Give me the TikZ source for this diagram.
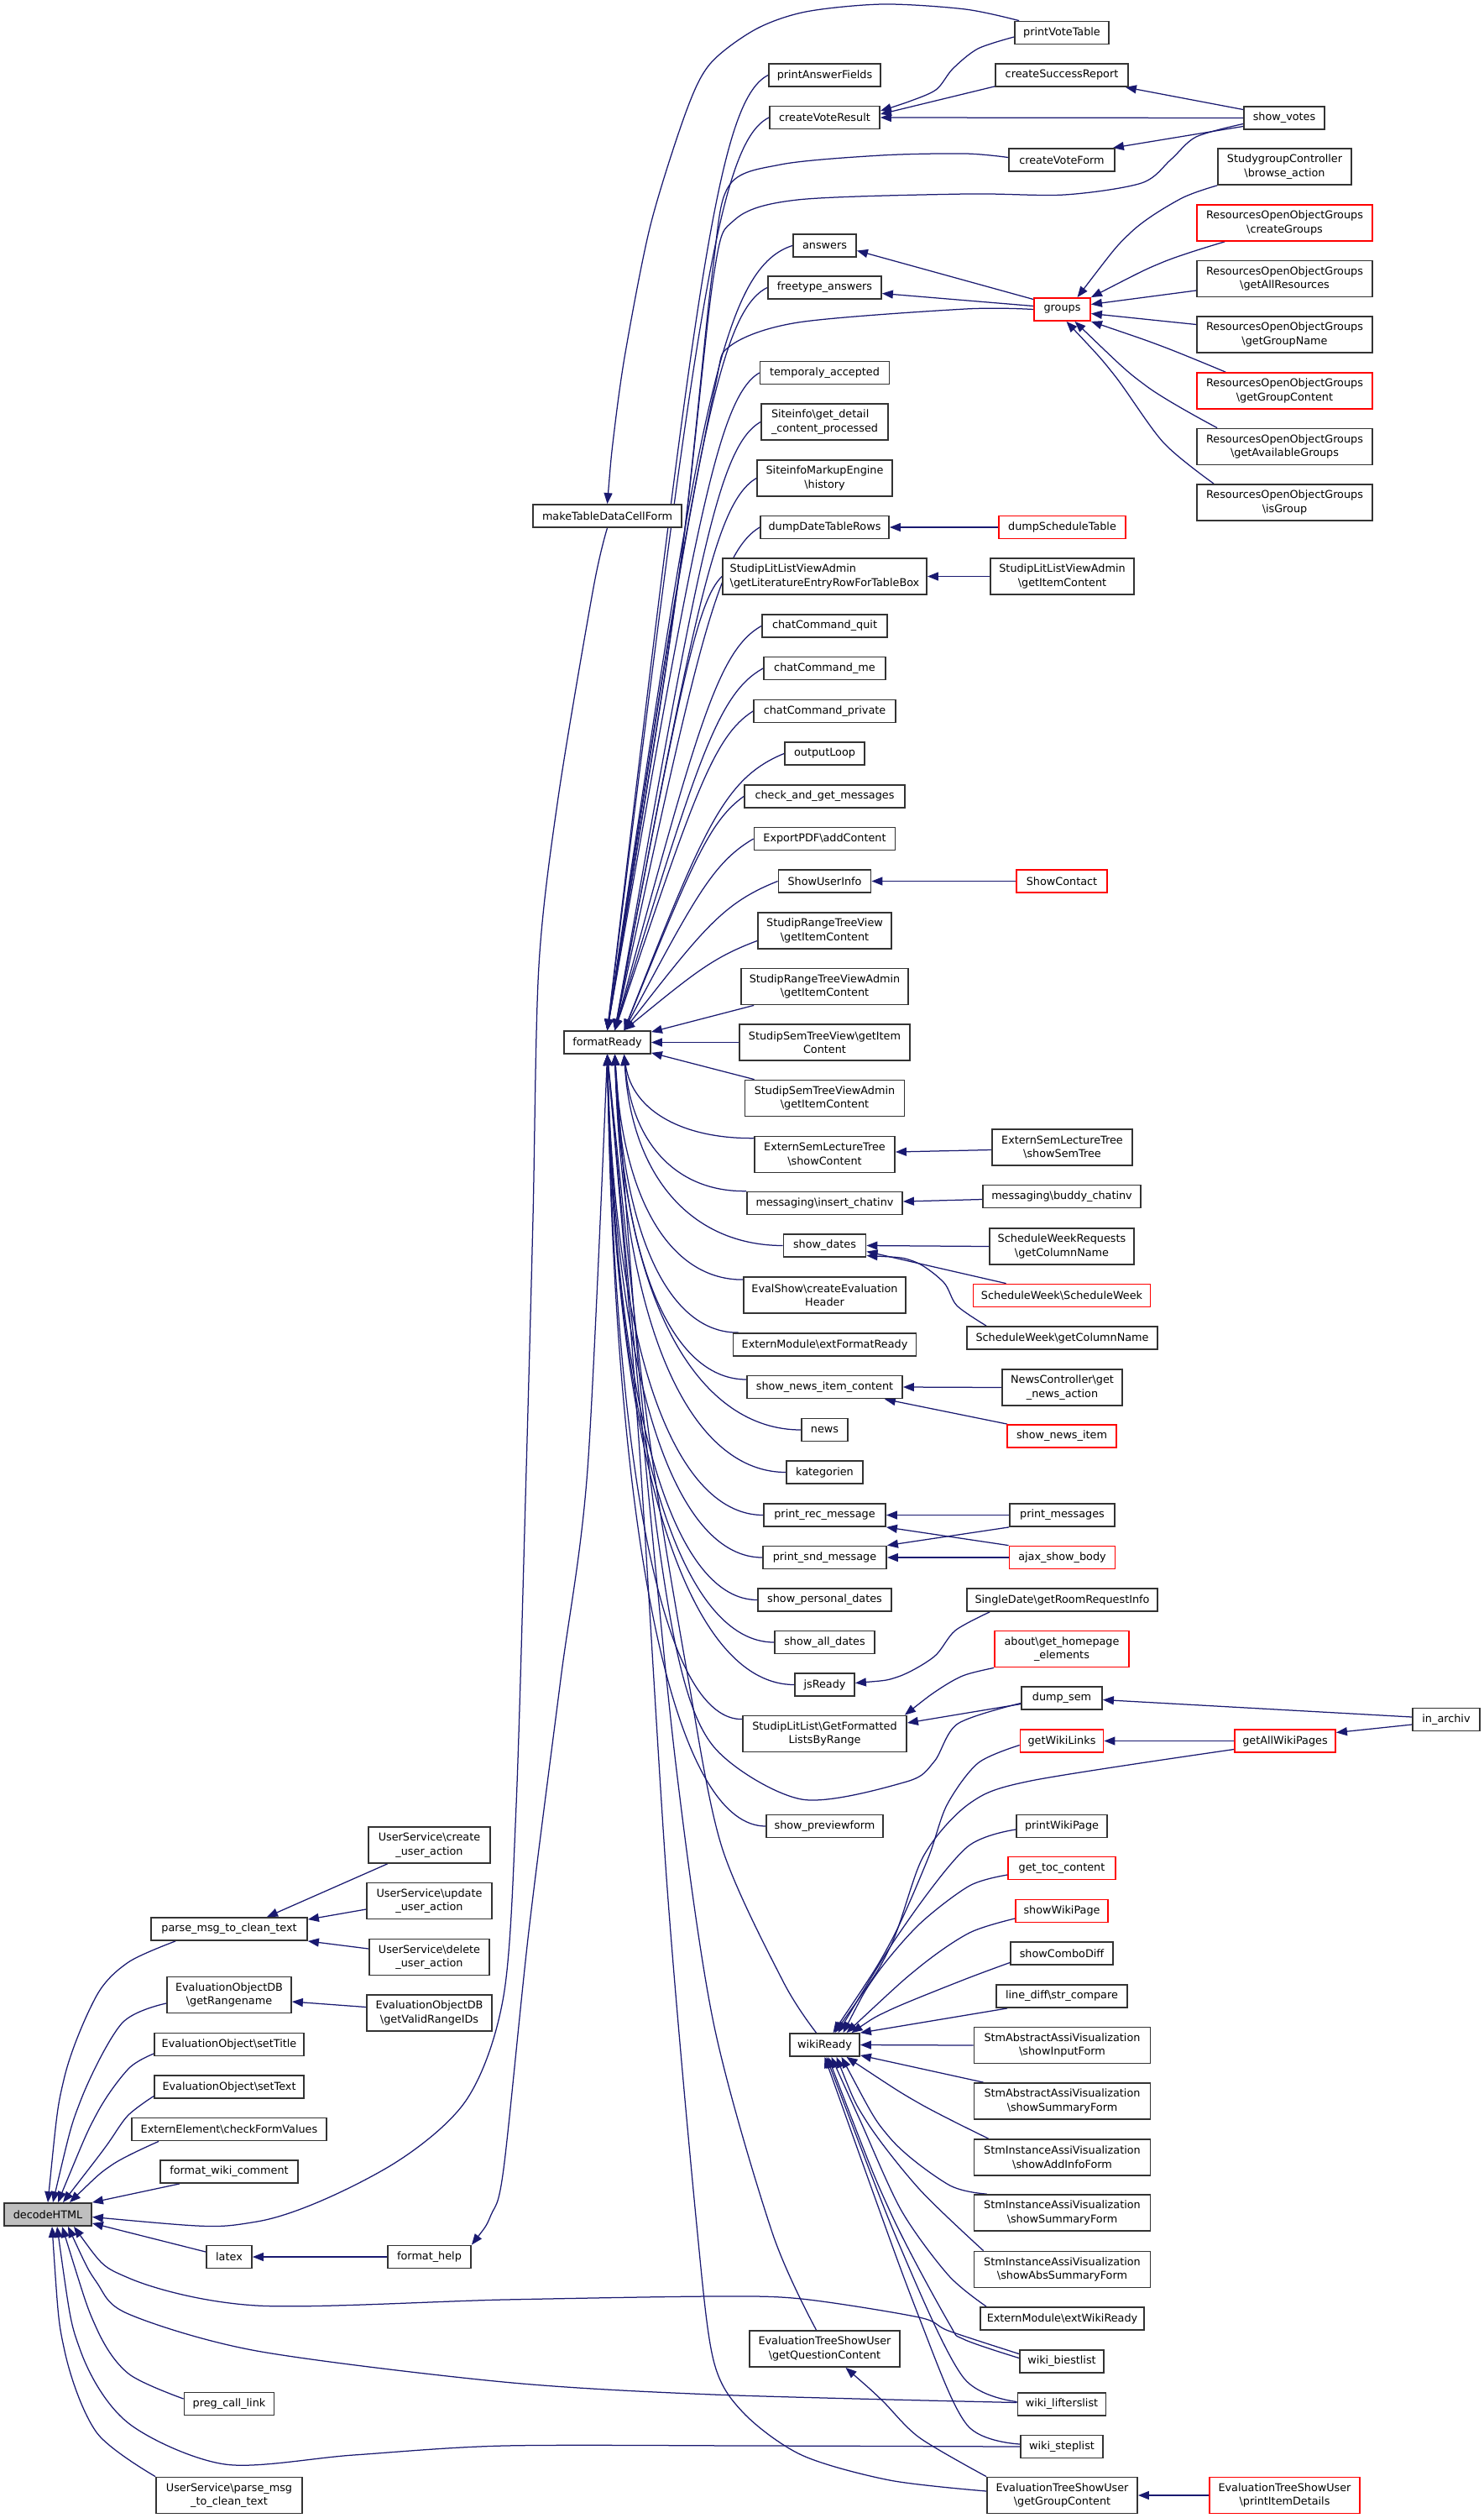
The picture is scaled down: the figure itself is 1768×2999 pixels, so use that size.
\documentclass[tikz,border=0pt]{standalone}
\usepackage{fontspec}
\setmainfont{DejaVu Sans}
\usetikzlibrary{arrows.meta,calc}
\definecolor{navy}{HTML}{191970}
\definecolor{bord}{HTML}{333333}
\newcommand\bsl{\textbackslash}
\newcommand\fs{\fontsize{12.8}{16.5}\selectfont}
\pgfdeclarelayer{bg}
\pgfsetlayers{bg,main}
\newcommand\topfan[4]{\draw[edg] (#1) .. controls ($(#1)!0.8!(#3,#4)$) and (#3,#4) .. (#2);}
\begin{document}
\begin{tikzpicture}[x=1pt,y=-1pt,
  box/.style={draw=bord, line width=1.8pt, fill=white, inner xsep=3pt, inner ysep=1pt, minimum height=27pt, align=center, font=\fs},
  dbl/.style={minimum height=43pt},
  rbox/.style={draw=red},
  edg/.style={draw=navy, line width=1.25pt, {Triangle[length=13pt,width=10pt]}-}]
\useasboundingbox (0,0) rectangle (1768,2999);
% column A
\node[box,fill=black!25,minimum width=104pt] (dec) at (57,2637.5) {decodeHTML};
% column B
\node[box,minimum width=186pt] (pmc) at (273,2297.5) {parse\_msg\_to\_clean\_text};
\node[box,dbl,minimum width=148pt] (eodbGR) at (273,2376) {EvaluationObjectDB\\\bsl getRangename};
\node[box,minimum width=178pt] (eoST) at (273,2435) {EvaluationObject\bsl setTitle};
\node[box,minimum width=178pt] (eoSX) at (273,2485.5) {EvaluationObject\bsl setText};
\node[box,minimum width=232pt] (eeCF) at (273,2536) {ExternElement\bsl checkFormValues};
\node[box,minimum width=164pt] (fwc) at (273,2586.5) {format\_wiki\_comment};
\node[box,minimum width=54pt] (latex) at (273,2688) {latex};
\node[box,minimum width=107pt] (pcl) at (273,2863) {preg\_call\_link};
\node[box,dbl,minimum width=174pt] (usPM) at (273,2972) {UserService\bsl parse\_msg\\\_to\_clean\_text};
% column C
\node[box,dbl,minimum width=145pt] (usC) at (511.5,2197.5) {UserService\bsl create\\\_user\_action};
\node[box,dbl,minimum width=149pt] (usU) at (511.5,2264) {UserService\bsl update\\\_user\_action};
\node[box,dbl,minimum width=143pt] (usD) at (511.5,2331) {UserService\bsl delete\\\_user\_action};
\node[box,dbl,minimum width=149pt] (eodbVR) at (511.5,2397.5) {EvaluationObjectDB\\\bsl getValidRangeIDs};
\node[box,minimum width=99pt] (fh) at (511.5,2688) {format\_help};
% column D
\node[box,minimum width=177pt] (mtd) at (723.5,614.5) {makeTableDataCellForm};
\node[box,minimum width=103pt] (fR) at (723.5,1241.5) {formatReady};
% column E
\node[box,minimum width=133pt] (paf) at (982.5,89.5) {printAnswerFields};
\node[box,minimum width=131pt] (cvr) at (982.5,140) {createVoteResult};
\node[box,minimum width=75pt] (ans) at (982.5,292.5) {answers};
\node[box,minimum width=135pt] (fta) at (982.5,342.5) {freetype\_answers};
\node[box,minimum width=154pt] (ta) at (982.5,444) {temporaly\_accepted};
\node[box,dbl,minimum width=151pt,align=left] (sigd) at (982.5,502.5) {Siteinfo\bsl get\_detail\\\_content\_processed};
\node[box,dbl,minimum width=161pt] (sime) at (982.5,569.5) {SiteinfoMarkupEngine\\\bsl history};
\node[box,minimum width=153pt] (ddtr) at (982.5,628) {dumpDateTableRows};
\node[box,dbl,minimum width=243pt,align=left] (sllvaE) at (982.5,686.5) {StudipLitListViewAdmin\\\bsl getLiteratureEntryRowForTableBox};
\node[box,minimum width=149pt] (ccq) at (982.5,745.5) {chatCommand\_quit};
\node[box,minimum width=145pt] (ccm) at (982.5,796) {chatCommand\_me};
\node[box,minimum width=169pt] (ccp) at (982.5,847) {chatCommand\_private};
\node[box,minimum width=95pt] (ol) at (982.5,897.5) {outputLoop};
\node[box,minimum width=191pt] (cgm) at (982.5,948.5) {check\_and\_get\_messages};
\node[box,minimum width=168pt] (epdf) at (982.5,999) {ExportPDF\bsl addContent};
\node[box,minimum width=110pt] (sui) at (982.5,1049.5) {ShowUserInfo};
\node[box,dbl,minimum width=159pt] (srtv) at (982.5,1108.5) {StudipRangeTreeView\\\bsl getItemContent};
\node[box,dbl,minimum width=199pt] (srtva) at (982.5,1175) {StudipRangeTreeViewAdmin\\\bsl getItemContent};
\node[box,dbl,minimum width=203pt] (sstv) at (982.5,1241.5) {StudipSemTreeView\bsl getItem\\Content};
\node[box,dbl,minimum width=190pt] (sstva) at (982.5,1308) {StudipSemTreeViewAdmin\\\bsl getItemContent};
\node[box,dbl,minimum width=167pt] (eslt) at (982.5,1375) {ExternSemLectureTree\\\bsl showContent};
\node[box,minimum width=185pt] (mic) at (982.5,1433) {messaging\bsl insert\_chatinv};
\node[box,minimum width=98pt] (sd) at (982.5,1483.5) {show\_dates};
\node[box,dbl,minimum width=193pt] (esh) at (982.5,1542.5) {EvalShow\bsl createEvaluation\\Header};
\node[box,minimum width=218pt] (emfr) at (982.5,1601.5) {ExternModule\bsl extFormatReady};
\node[box,minimum width=185pt] (snic) at (982.5,1652) {show\_news\_item\_content};
\node[box,minimum width=55pt] (news) at (982.5,1703) {news};
\node[box,minimum width=91pt] (kat) at (982.5,1753.5) {kategorien};
\node[box,minimum width=145pt] (prm) at (982.5,1804.5) {print\_rec\_message};
\node[box,minimum width=147pt] (psm) at (982.5,1855) {print\_snd\_message};
\node[box,minimum width=159pt] (spd) at (982.5,1905.5) {show\_personal\_dates};
\node[box,minimum width=119pt] (sad) at (982.5,1956) {show\_all\_dates};
\node[box,minimum width=71pt] (jsr) at (982.5,2006.5) {jsReady};
\node[box,dbl,minimum width=195pt] (sllgf) at (982.5,2065) {StudipLitList\bsl GetFormatted\\ListsByRange};
\node[box,minimum width=139pt] (spf) at (982.5,2175) {show\_previewform};
\node[box,minimum width=83pt] (wR) at (982.5,2435.5) {wikiReady};
\node[box,dbl,minimum width=179pt] (etqc) at (982.5,2797.5) {EvaluationTreeShowUser\\\bsl getQuestionContent};
% column F
\node[box,minimum width=112pt] (pvt) at (1265,39) {printVoteTable};
\node[box,minimum width=158pt] (csr) at (1265,89.5) {createSuccessReport};
\node[box,minimum width=126pt] (cvf) at (1265,190.5) {createVoteForm};
\node[box,rbox,minimum width=67pt] (grp) at (1265.5,368.5) {groups};
\node[box,rbox,minimum width=151pt] (dst) at (1265.5,628) {dumpScheduleTable};
\node[box,dbl,minimum width=171pt] (sllvaI) at (1265.5,686.5) {StudipLitListViewAdmin\\\bsl getItemContent};
\node[box,rbox,minimum width=108pt] (sc) at (1265,1049.5) {ShowContact};
\node[box,dbl,minimum width=167pt] (esst) at (1265.5,1366.5) {ExternSemLectureTree\\\bsl showSemTree};
\node[box,minimum width=188pt] (mbc) at (1265,1425) {messaging\bsl buddy\_chatinv};
\node[box,dbl,minimum width=172pt] (swrc) at (1265,1484.5) {ScheduleWeekRequests\\\bsl getColumnName};
\node[box,rbox,minimum width=211pt] (swsw) at (1265,1543) {ScheduleWeek\bsl ScheduleWeek};
\node[box,minimum width=227pt] (swgc) at (1265.5,1593.5) {ScheduleWeek\bsl getColumnName};
\node[box,dbl,minimum width=143pt] (ncg) at (1265.5,1652.5) {NewsController\bsl get\\\_news\_action};
\node[box,rbox,minimum width=130pt] (sni) at (1265,1710.5) {show\_news\_item};
\node[box,minimum width=125pt] (pm) at (1265.5,1804.5) {print\_messages};
\node[box,rbox,minimum width=126pt] (asb) at (1265.5,1855) {ajax\_show\_body};
\node[box,minimum width=227pt] (sdrr) at (1265.5,1905.5) {SingleDate\bsl getRoomRequestInfo};
\node[box,dbl,rbox,minimum width=160pt] (ahe) at (1265,1964) {about\bsl get\_homepage\\\_elements};
\node[box,minimum width=96pt] (ds) at (1265,2022.5) {dump\_sem};
\node[box,rbox,minimum width=99pt] (gwl) at (1265,2073.5) {getWikiLinks};
\node[box,minimum width=108pt] (pwp) at (1265,2175) {printWikiPage};
\node[box,rbox,minimum width=128pt] (gtc) at (1265,2225) {get\_toc\_content};
\node[box,rbox,minimum width=110pt] (swp) at (1265,2276) {showWikiPage};
\node[box,minimum width=122pt] (scd) at (1265,2326.5) {showComboDiff};
\node[box,minimum width=156pt] (ldsc) at (1265,2377.5) {line\_diff\bsl str\_compare};
\node[box,dbl,minimum width=210pt] (saif) at (1265.5,2436) {StmAbstractAssiVisualization\\\bsl showInputForm};
\node[box,dbl,minimum width=210pt] (sasf) at (1265.5,2502.5) {StmAbstractAssiVisualization\\\bsl showSummaryForm};
\node[box,dbl,minimum width=210pt] (siaf) at (1265.5,2569.5) {StmInstanceAssiVisualization\\\bsl showAddInfoForm};
\node[box,dbl,minimum width=210pt] (sisf) at (1265.5,2635.5) {StmInstanceAssiVisualization\\\bsl showSummaryForm};
\node[box,dbl,minimum width=210pt] (sias) at (1265.5,2703) {StmInstanceAssiVisualization\\\bsl showAbsSummaryForm};
\node[box,minimum width=195pt] (emwr) at (1265.5,2761.5) {ExternModule\bsl extWikiReady};
\node[box,minimum width=100pt] (wbl) at (1265,2812.5) {wiki\_biestlist};
\node[box,minimum width=105pt] (wll) at (1265,2863.5) {wiki\_lifterslist};
\node[box,minimum width=98pt] (wsl) at (1265,2914) {wiki\_steplist};
\node[box,dbl,minimum width=179pt] (etgc) at (1265.5,2972) {EvaluationTreeShowUser\\\bsl getGroupContent};
% column G
\node[box,minimum width=96pt] (sv) at (1530,140.5) {show\_votes};
\node[box,dbl,minimum width=159pt] (sgc) at (1530.5,198.5) {StudygroupController\\\bsl browse\_action};
\node[box,dbl,rbox,minimum width=209pt] (roCG) at (1530.5,265.5) {ResourcesOpenObjectGroups\\\bsl createGroups};
\node[box,dbl,minimum width=209pt] (roAR) at (1530.5,332) {ResourcesOpenObjectGroups\\\bsl getAllResources};
\node[box,dbl,minimum width=209pt] (roGN) at (1530.5,398.5) {ResourcesOpenObjectGroups\\\bsl getGroupName};
\node[box,dbl,rbox,minimum width=209pt] (roGC) at (1530.5,465.5) {ResourcesOpenObjectGroups\\\bsl getGroupContent};
\node[box,dbl,minimum width=209pt] (roAG) at (1530.5,532) {ResourcesOpenObjectGroups\\\bsl getAvailableGroups};
\node[box,dbl,minimum width=209pt] (roIG) at (1530.5,598.5) {ResourcesOpenObjectGroups\\\bsl isGroup};
\node[box,rbox,minimum width=120pt] (gawp) at (1531,2073.5) {getAllWikiPages};
\node[box,dbl,rbox,minimum width=179pt] (etpid) at (1530.5,2972) {EvaluationTreeShowUser\\\bsl printItemDetails};
% column H
\node[box,minimum width=80pt] (ia) at (1723,2048) {in\_archiv};
% anchor points on formatReady
\coordinate (fTa) at (fR.north);
\coordinate (fTb) at ([xshift=9pt]fR.north);
\coordinate (fTc) at ([xshift=20pt]fR.north);
\coordinate (fBa) at (fR.south);
\coordinate (fBb) at ([xshift=9pt]fR.south);
\coordinate (fBc) at ([xshift=20pt]fR.south);
\begin{pgfonlayer}{bg}
% decodeHTML top
\draw[edg] plot[smooth] coordinates {(dec.north) (76.5,2475) (115,2377) (153,2337) ([shift={(30,0)}]pmc.south west)};
\draw[edg] plot[smooth] coordinates {([shift={(6,0)}]dec.north) (96,2502) (145,2410) ([shift={(0,10)}]eodbGR.west)};
\draw[edg] plot[smooth] coordinates {([shift={(12,0)}]dec.north) (115,2518) (153,2464) ([shift={(0,11)}]eoST.west)};
\draw[edg] plot[smooth] coordinates {([shift={(18,0)}]dec.north) (125,2558) (152,2520) ([shift={(0,11)}]eoSX.west)};
\draw[edg] plot[smooth] coordinates {([shift={(26,0)}]dec.north) (134,2578) ([shift={(33,0)}]eeCF.south west)};
\draw[edg] (dec.north east) -- ([shift={(-59,0)}]fwc.south);
% decodeHTML right
\draw[edg] plot[smooth] coordinates {([shift={(0,3)}]dec.east) (306,2646) (459,2583) (555,2502) (600,2377) (615,2150) (627,1750) (635,1450) (642,1150) (665,950) (707,700) (mtd.south)};
\draw[edg] ([shift={(0,-4)}]dec.south east) -- ([shift={(0,-6)}]latex.west);
% decodeHTML bottom
\draw[edg] plot[smooth] coordinates {([shift={(31,0)}]dec.south) (153,2713) (306,2746) (600,2739) (850,2735) (955,2738) (1095,2760) (1130,2776) ([shift={(0,-9)}]wbl.west)};
\draw[edg] plot[smooth] coordinates {([shift={(24,0)}]dec.south) (115,2718) (153,2756) (306,2800) (600,2837) (850,2852) ([shift={(0,-2)}]wll.west)};
\draw[edg] plot[smooth] coordinates {([shift={(17,0)}]dec.south) (115,2773) (153,2827) ([shift={(0,-6)}]pcl.west)};
\draw[edg] plot[smooth] coordinates {([shift={(11,0)}]dec.south) (96,2800) (153,2886) (268,2935) (421,2924) (600,2913) (900,2913) (wsl.west)};
\draw[edg] plot[smooth] coordinates {([shift={(5,0)}]dec.south) (77,2800) (115,2897) (usPM.north west)};
% left columns
\draw[edg] ([shift={(45,0)}]pmc.north) -- ([shift={(-50,0)}]usC.south);
\draw[edg] ([shift={(0,3)}]pmc.north east) -- ([shift={(0,10)}]usU.west);
\draw[edg] (pmc.south east) -- ([shift={(0,-10)}]usD.west);
\draw[edg] ([shift={(0,8)}]eodbGR.east) -- ([shift={(0,-7)}]eodbVR.west);
\draw[edg] (latex.east) -- (fh.west);
\draw[edg] plot[smooth] coordinates {(fh.north east) (585,2638) (600,2583) (630,2300) (668,2000) (700,1750) (fBa)};
% makeTableDataCellForm
\draw[edg] plot[smooth] coordinates {(mtd.north) (731,520) (745,420) (775,268) (817,134) (846,76) (900,35) (960,14) (1052,5) (1150,11) ([shift={(6,0)}]pvt.north west)};
% formatReady top fan
\topfan{fTa}{paf.west}{855}{120}
\topfan{fTa}{cvr.west}{855}{170}
\draw[edg] plot[smooth] coordinates {(fTa) (807,700) (848,330) (868,222) (930,196) (1050,185) (1150,183) ([shift={(0,-3)}]cvf.west)};
\draw[edg] plot[smooth] coordinates {(fTa) (807,700) (850,330) (875,262) (950,238) (1150,231) (1268,232) (1360,218) (1395,190) (1425,163) ([shift={(0,7)}]sv.west)};
\topfan{fTa}{ans.west}{858}{320}
\topfan{fTa}{fta.west}{855}{372}
\draw[edg] plot[smooth] coordinates {(fTa) (807,700) (852,460) (870,412) (951,384) (1150,368) (grp.west)};
\topfan{fTa}{ta.west}{855}{474}
\topfan{fTb}{sigd.west}{855}{532}
\topfan{fTb}{sime.west}{852}{599}
\topfan{fTb}{ddtr.west}{855}{658}
\topfan{fTb}{sllvaE.west}{830}{716}
\topfan{fTb}{ccq.west}{855}{775}
\topfan{fTb}{ccm.west}{855}{826}
\topfan{fTb}{ccp.west}{850}{877}
\topfan{fTc}{ol.west}{862}{927}
\topfan{fTc}{cgm.west}{845}{978}
\topfan{fTc}{epdf.west}{850}{1027}
\topfan{fTc}{sui.west}{862}{1075}
\topfan{fTc}{[shift={(0,12)}]srtv.west}{850}{1140}
\draw[edg] ([shift={(0,2)}]fR.north east) -- ([shift={(16,0)}]srtva.south west);
\draw[edg] (fR.east) -- (sstv.west);
\draw[edg] ([shift={(0,-2)}]fR.south east) -- ([shift={(12,0)}]sstva.north west);
% formatReady bottom fan
\draw[edg] (fBc) .. controls (753.5,1325) and (816.6,1356.5) .. ([shift={(0,3)}]eslt.north west);
\draw[edg] (fBc) .. controls (753.5,1369) and (812.4,1420) .. (mic.north west);
\draw[edg] (fBc) .. controls (753.5,1412.7) and (832.8,1483.5) .. (sd.west);
\draw[edg] (fBb) .. controls (742.5,1441) and (804.6,1524.6) .. ([shift={(0,4)}]esh.north west);
\draw[edg] (fBb) .. controls (742.5,1484.8) and (802,1588) .. ([shift={(7,0)}]emfr.north west);
\draw[edg] (fBb) .. controls (742.5,1522.7) and (806.5,1643) .. ([shift={(0,-9)}]snic.west);
\draw[edg] (fBb) .. controls (742.5,1564) and (837,1703) .. (news.west);
\draw[edg] (fBb) .. controls (742.5,1599) and (828.6,1753.5) .. (kat.west);
\draw[edg] (fBa) .. controls (733.5,1634) and (811,1804.5) .. (prm.west);
\draw[edg] (fBa) .. controls (733.5,1669) and (810.7,1855) .. (psm.west);
\draw[edg] (fBa) .. controls (733.5,1703.8) and (807.9,1905.5) .. (spd.west);
\draw[edg] (fBa) .. controls (733.5,1738.7) and (817.3,1956) .. (sad.west);
\draw[edg] (fBa) .. controls (733.5,1773.5) and (828.5,2006.5) .. (jsr.west);
\draw[edg] (fBa) .. controls (733.5,1802.9) and (799.4,2049) .. ([shift={(0,5)}]sllgf.north west);
\draw[edg] (fBa) .. controls (733.5,1889.8) and (812.6,2175) .. (spf.west);
\draw[edg] plot[smooth] coordinates {(fBb) (768,1700) (805,1960) (850,2080) (955,2143) (1080,2122) (1113,2098) (1141,2053) ([shift={(0,6)}]ds.west)};
\draw[edg] plot[smooth] coordinates {(fBa) (772,1700) (820,2000) (860,2200) (933,2360) ([shift={(-10,0)}]wR.north)};
\draw[edg] plot[smooth] coordinates {(fBa) (765,1700) (805,2100) (850,2409) (920,2659) ([shift={(-10,0)}]etqc.north)};
\draw[edg] plot[smooth] coordinates {(fBa) (760,1700) (795,2250) (830,2650) (850,2811) (885,2873) (955,2924) (1060,2954) ([shift={(0,-5)}]etgc.west)};
% vote cluster
\draw[edg] plot[smooth] coordinates {([shift={(0,-8)}]cvr.east) (1080,122) (1115,107) (1135,82) (1165,58) ([shift={(0,5)}]pvt.west)};
\draw[edg] ([shift={(0,-4)}]cvr.east) -- ([shift={(0,-1)}]csr.south west);
\draw[edg] (cvr.east) -- (sv.west);
\draw[edg] ([shift={(-4,0)}]csr.south east) -- ([shift={(0,-10)}]sv.west);
\draw[edg] ([shift={(-3,0)}]cvf.north east) -- ([shift={(0,10)}]sv.west);
% groups cluster
\draw[edg] ([shift={(0,6)}]ans.east) -- ([shift={(0,-12)}]grp.west);
\draw[edg] ([shift={(0,7)}]fta.east) -- ([shift={(0,-4)}]grp.west);
\draw[edg] plot[smooth] coordinates {([shift={(18,0)}]grp.north) (1347,277) (1406,237) (sgc.south west)};
\draw[edg] plot[smooth] coordinates {(grp.north east) (1386,312) ([shift={(34,0)}]roCG.south west)};
\draw[edg] ([shift={(0,-6)}]grp.east) -- ([shift={(0,14)}]roAR.west);
\draw[edg] ([shift={(0,5)}]grp.east) -- ([shift={(0,-12)}]roGN.west);
\draw[edg] plot[smooth] coordinates {(grp.south east) (1386,413) ([shift={(35,0)}]roGC.north west)};
\draw[edg] plot[smooth] coordinates {([shift={(15,0)}]grp.south) (1366,460) ([shift={(25,0)}]roAG.north west)};
\draw[edg] plot[smooth] coordinates {([shift={(5,0)}]grp.south) (1327,446) (1386,527) ([shift={(21,0)}]roIG.north west)};
% middle pairs
\draw[edg] (ddtr.east) -- (dst.west);
\draw[edg] (sllvaE.east) -- (sllvaI.west);
\draw[edg] (sui.east) -- (sc.west);
\draw[edg] ([shift={(0,-3)}]eslt.east) -- ([shift={(0,3)}]esst.west);
\draw[edg] ([shift={(0,-2)}]mic.east) -- ([shift={(0,3.5)}]mbc.west);
\draw[edg] (sd.east) -- (swrc.west);
\draw[edg] ([shift={(0,7)}]sd.east) -- ([shift={(40,0)}]swsw.north west);
\draw[edg] plot[smooth] coordinates {([shift={(0,12)}]sd.east) (1088,1502) (1124,1527) (1140,1555) ([shift={(24,0)}]swgc.north west)};
\draw[edg] (snic.east) -- (ncg.west);
\draw[edg] ([shift={(-22,0)}]snic.south east) -- ([shift={(1,0)}]sni.north west);
\draw[edg] (prm.east) -- (pm.west);
\draw[edg] (prm.south east) -- (asb.north west);
\draw[edg] (psm.north east) -- (pm.south west);
\draw[edg] (psm.east) -- (asb.west);
\draw[edg] plot[smooth] coordinates {([shift={(0,-2)}]jsr.east) (1070,1997) (1113,1973) (1138,1942) ([shift={(28,0)}]sdrr.south west)};
\draw[edg] plot[smooth] coordinates {([shift={(-3,0)}]sllgf.north east) (1117,2013) (1148,1995.5) (ahe.south west)};
\draw[edg] ([shift={(0,-13)}]sllgf.east) -- ([shift={(0,7)}]ds.west);
\draw[edg] ([shift={(0,2)}]ds.east) -- ([shift={(0,-3)}]ia.west);
\draw[edg] ([shift={(0,-10)}]gawp.east) -- ([shift={(0,6)}]ia.west);
\draw[edg] (gwl.east) -- (gawp.west);
% wikiReady fan
\draw[edg] plot[smooth] coordinates {([shift={(10,0)}]wR.north) (1060,2315) (1105,2215) (1128,2150) (1165,2100) ([shift={(0,5)}]gwl.west)};
\draw[edg] plot[smooth] coordinates {([shift={(12,0)}]wR.north) (1060,2320) (1100,2211) (1155,2148) (1228,2121) ([shift={(0,10)}]gawp.west)};
\draw[edg] plot[smooth] coordinates {([shift={(16,0)}]wR.north) (1080,2290) (1152,2200) ([shift={(0,4)}]pwp.west)};
\draw[edg] plot[smooth] coordinates {([shift={(22,0)}]wR.north) (1043,2353) (1095,2292) (1155,2246) ([shift={(0,8)}]gtc.west)};
\draw[edg] plot[smooth] coordinates {([shift={(26,0)}]wR.north) (1095,2343) (1155,2302) ([shift={(0,9)}]swp.west)};
\draw[edg] plot[smooth] coordinates {([shift={(32,0)}]wR.north) (1060,2394) (1148,2358) ([shift={(0,11)}]scd.west)};
\draw[edg] (wR.north east) -- ([shift={(14,0)}]ldsc.south west);
\draw[edg] (wR.east) -- (saif.west);
\draw[edg] ([shift={(0,-2)}]wR.south east) -- ([shift={(12,0)}]sasf.north west);
\draw[edg] plot[smooth] coordinates {([shift={(26,0)}]wR.south) (1095,2505) ([shift={(18,0)}]siaf.north west)};
\draw[edg] plot[smooth] coordinates {([shift={(20,0)}]wR.south) (1060,2546) (1130,2602) ([shift={(16,0)}]sisf.north west)};
\draw[edg] plot[smooth] coordinates {([shift={(14,0)}]wR.south) (1032,2526) (1095,2607) ([shift={(12,0)}]sias.north west)};
\draw[edg] plot[smooth] coordinates {([shift={(8,0)}]wR.south) (1025,2526) (1074,2633) (1130,2710) ([shift={(8,0)}]emwr.north west)};
\draw[edg] plot[smooth] coordinates {([shift={(4,0)}]wR.south) (1060,2633) (1130,2766) (1148,2786) ([shift={(0,-4)}]wbl.west)};
\draw[edg] plot[smooth] coordinates {([shift={(2,0)}]wR.south) (1078,2689) (1148,2832) ([shift={(0,-3)}]wll.west)};
\draw[edg] plot[smooth] coordinates {(wR.south) (1095,2760) (1152,2888) ([shift={(0,-3)}]wsl.west)};
% evaluation tree
\draw[edg] plot[smooth] coordinates {([shift={(25,0)}]etqc.south) (1050,2858) (1095,2903) (etgc.north west)};
\draw[edg] (etgc.east) -- (etpid.west);
\end{pgfonlayer}
\end{tikzpicture}
\end{document}
